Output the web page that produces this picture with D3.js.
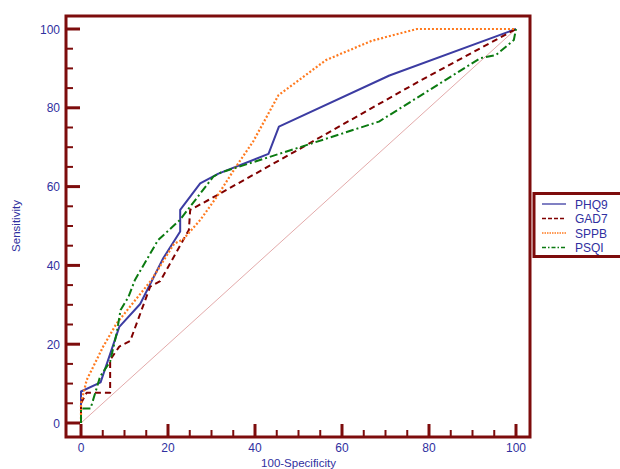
<!DOCTYPE html>
<html><head><meta charset="utf-8">
<script src="https://cdn.jsdelivr.net/npm/d3@7"></script>
<style>html,body{margin:0;padding:0;background:#fff;overflow:hidden}</style>
</head><body>
<script>
// Data (x = 100-Specificity, y = Sensitivity)
const seriesNames = ["PHQ9", "GAD7", "SPPB", "PSQI"];
const phq9 = [[0,0],[0,8],[4.5,10.3],[8.8,24.4],[13.6,30.2],[18.9,41.8],[22.8,48.6],[22.8,54.1],[27.4,60.8],[31.6,63.3],[43.1,68.3],[45.5,75.2],[70.9,88.2],[100,100]];
const gad7 = [[0,0],[0,5],[1.3,7.7],[6.7,7.7],[6.7,16],[8.8,19.4],[11.3,20.8],[15.9,34.6],[18.2,36],[24.8,49],[25.1,54.1],[29.3,56.6],[50.3,69.6],[77.2,86.4],[100,100]];
const sppb = [[0,0],[0,5],[1.3,10.9],[5.1,19.4],[8.2,25.3],[16.2,36.3],[21.4,45.5],[23.5,46.6],[27.4,51.5],[31.2,57.4],[35.6,65],[39.6,71.5],[45.4,83.2],[56.3,92.1],[66.8,97],[77.2,100],[100,100]];
const psqi = [[0,0],[0,3.7],[2.2,3.7],[4.4,11.8],[6.7,15.6],[8.2,22.8],[9.1,28.7],[10.9,32],[12.4,36.3],[17.7,46.4],[22.7,51.5],[30.4,62.5],[32.2,63.6],[49.5,69.7],[68.5,76.5],[91.8,92.6],[95.4,93.4],[99.5,97.2],[100,100]];
const diagonal = [[0,0],[100,100]];
const xTicks = [0,20,40,60,80,100];
const yTicks = [0,20,40,60,80,100];
const minorTicks = d3.range(0,101,5);
const xTitle = "100-Specificity";
const yTitle = "Sensitivity";

const W = 620, H = 469;
const frame = {l:66, t:16, r:530, b:437};
const x = d3.scaleLinear().domain([0,100]).range([81,516]);
const y = d3.scaleLinear().domain([0,100]).range([423,29]);

const maroon = "#7d0c0c";
const textBlue = "#3030a0";
const styles = [
  {color:"#3c3ca2", dash:null, w:2},
  {color:"#800000", dash:"6,4", w:2},
  {color:"#ff7a1f", dash:"2,2", w:2.2},
  {color:"#0b7a10", dash:"8,3,2,3", w:2}
];
const data = [phq9, gad7, sppb, psqi];

const svg = d3.select("body").append("svg").attr("width",W).attr("height",H)
  .style("font-family","Arial, 'Liberation Sans', sans-serif");

// diagonal reference
const line = d3.line().x(d=>x(d[0])).y(d=>y(d[1]));
svg.append("path").attr("d", line(diagonal)).attr("fill","none")
  .attr("stroke","#e0a0a0").attr("stroke-width",0.9);

// series
data.forEach((s,i)=>{
  svg.append("path").attr("d", line(s)).attr("fill","none")
    .attr("stroke", styles[i].color).attr("stroke-width", styles[i].w)
    .attr("stroke-dasharray", styles[i].dash).attr("stroke-linejoin","round");
});

// frame
svg.append("rect").attr("x",frame.l).attr("y",frame.t)
  .attr("width",frame.r-frame.l).attr("height",frame.b-frame.t)
  .attr("fill","none").attr("stroke",maroon).attr("stroke-width",3);

// ticks
minorTicks.forEach(v=>{
  const major = v % 20 === 0;
  svg.append("line").attr("x1",frame.l).attr("x2",frame.l + (major?14:7))
    .attr("y1",y(v)).attr("y2",y(v)).attr("stroke",maroon).attr("stroke-width",major?3:2);
  svg.append("line").attr("y1",frame.b).attr("y2",frame.b - (major?13:7))
    .attr("x1",x(v)).attr("x2",x(v)).attr("stroke",maroon).attr("stroke-width",major?3:2);
});
yTicks.forEach(v=>{
  svg.append("text").attr("x",60).attr("y",y(v)+4.5).attr("text-anchor","end")
    .attr("font-size",12).attr("fill",textBlue).text(v);
});
xTicks.forEach(v=>{
  svg.append("text").attr("x",x(v)).attr("y",452).attr("text-anchor","middle")
    .attr("font-size",12).attr("fill",textBlue).text(v);
});
svg.append("text").attr("x",(x(0)+x(100))/2).attr("y",467).attr("text-anchor","middle")
  .attr("font-size",11.5).attr("fill",textBlue).text(xTitle);
svg.append("text").attr("transform",`translate(20,${(y(0)+y(100))/2}) rotate(-90)`)
  .attr("text-anchor","middle").attr("font-size",11.5).attr("fill",textBlue).text(yTitle);

// legend
const lg = svg.append("g");
lg.append("rect").attr("x",534).attr("y",193.5).attr("width",100).attr("height",63)
  .attr("fill","#fff").attr("stroke",maroon).attr("stroke-width",3);
seriesNames.forEach((n,i)=>{
  const yy = 204 + i*14.5;
  lg.append("line").attr("x1",542).attr("x2",566).attr("y1",yy).attr("y2",yy)
    .attr("stroke",styles[i].color).attr("stroke-width",1.3)
    .attr("stroke-dasharray", styles[i].dash ? (i===1?"4,2":i===2?"1.5,1":"4,2,1.5,2") : null);
  lg.append("text").attr("x",575).attr("y",yy+4.5).attr("font-size",12)
    .attr("fill",textBlue).text(n);
});
</script>
</body></html>
